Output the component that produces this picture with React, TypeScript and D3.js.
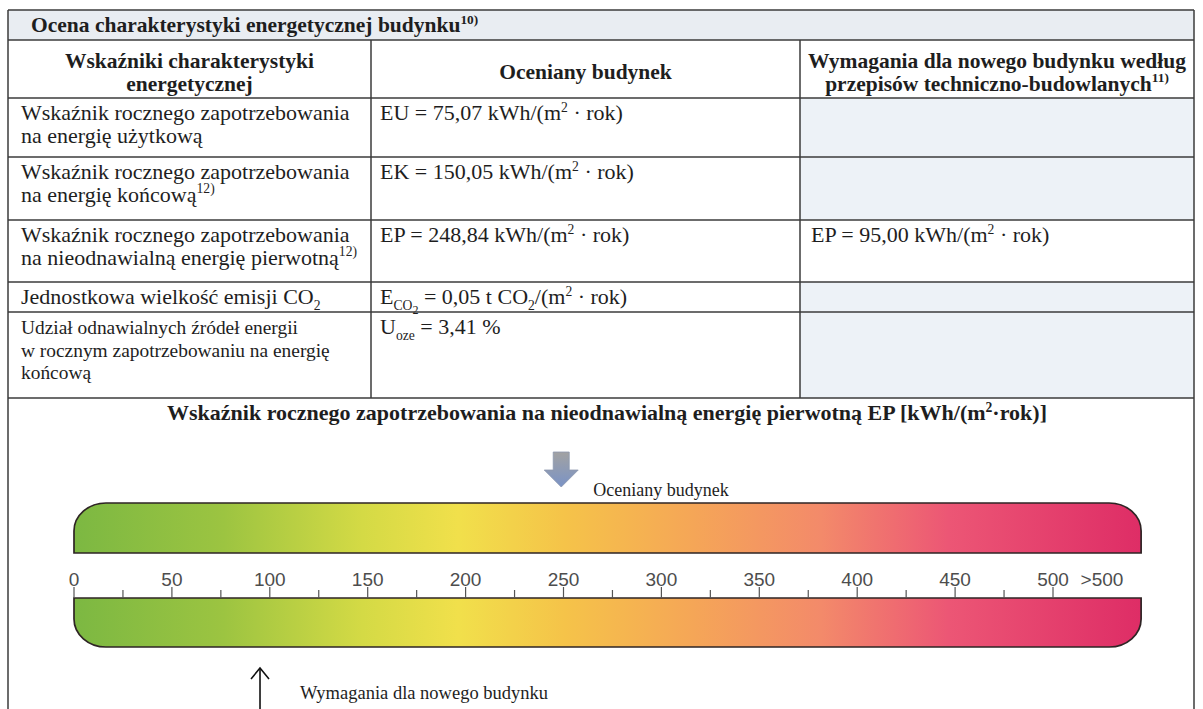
import React from 'react';
import * as d3 from 'd3';

// table content
const sectionTitle = 'Ocena charakterystyki energetycznej budynku';
const sectionNote = '10)';
const columnHeaders = [
  ['Wskaźniki charakterystyki', 'energetycznej'],
  ['Oceniany budynek'],
  ['Wymagania dla nowego budynku według', 'przepisów techniczno-budowlanych'],
];
const columnNotes = ['', '', '11)'];
const indicatorNames = [
  ['Wskaźnik rocznego zapotrzebowania', 'na energię użytkową'],
  ['Wskaźnik rocznego zapotrzebowania', 'na energię końcową'],
  ['Wskaźnik rocznego zapotrzebowania', 'na nieodnawialną energię pierwotną'],
  ['Jednostkowa wielkość emisji CO'],
  ['Udział odnawialnych źródeł energii', 'w rocznym zapotrzebowaniu na energię', 'końcową'],
];
const indicatorNotes = ['', '12)', '12)', '', ''];
const indicatorSymbols = ['EU', 'EK', 'EP', 'E', 'U'];
const assessedValues = [75.07, 150.05, 248.84, 0.05, 3.41];
const requiredValues = [null, null, 95.0, null, null];

// scale
const scaleTitle = 'Wskaźnik rocznego zapotrzebowania na nieodnawialną energię pierwotną EP [kWh/(m';
const majorTicks = [0, 50, 100, 150, 200, 250, 300, 350, 400, 450, 500];
const minorTicks = [25, 75, 125, 175, 225, 275, 325, 375, 425, 475];
const overLabel = '>500';
const assessedEP = 248.84;
const requiredEP = 95.0;
const gradientStops = [
  [0, '#7cb842'],
  [0.14, '#9cc441'],
  [0.27, '#d4da45'],
  [0.36, '#f1e04b'],
  [0.46, '#f5c349'],
  [0.58, '#f5a657'],
  [0.7, '#f38a6a'],
  [0.82, '#ec5675'],
  [1, '#de2d66'],
];

const serif = '"Liberation Serif", "Times New Roman", serif';
const sans = '"Liberation Sans", Arial, sans-serif';
const ink = '#1e1e1e';
const shade = '#edf2f7';

const pl = d3.formatLocale({ decimal: ',', thousands: ' ', grouping: [3], currency: ['', ' zł'] });
const f2 = pl.format('.2f');

type Seg = [string, string?];

function Rich({ x, y, segs, size, anchor = 'start', weight = 'normal' }:
  { x: number; y: number; segs: Seg[]; size: number; anchor?: string; weight?: string }) {
  let shift = 0;
  const spec: Record<string, [number, number]> = {
    '': [0, 1], sup: [-size * 0.38, 0.62], sub: [size * 0.28, 0.62], sub2: [size * 0.45, 0.55],
  };
  return (
    <text x={x} y={y} fontSize={size} fontFamily={serif} fill={ink} textAnchor={anchor} fontWeight={weight}>
      {segs.map(([t, m = ''], i) => {
        const [target, k] = spec[m];
        const dy = target - shift;
        shift = target;
        return <tspan key={i} dy={dy} fontSize={size * k}>{t}</tspan>;
      })}
    </text>
  );
}

function valueSegs(i: number, v: number): Seg[] {
  const s = indicatorSymbols[i];
  if (s === 'E') return [['E'], ['CO', 'sub'], ['2', 'sub2'], [` = ${f2(v)} t CO`], ['2', 'sub'], ['/(m'], ['2', 'sup'], [' · rok)']];
  if (s === 'U') return [['U'], ['oze', 'sub'], [` = ${f2(v)} %`]];
  return [[`${s} = ${f2(v)} kWh/(m`], ['2', 'sup'], [' · rok)']];
}

export default function App() {
  const W = 1203, H = 709;
  const colX = [8, 371, 800, 1194];
  const rowY = [10, 40, 98, 157, 220, 282, 312, 398];
  const fs = 22;

  const x = d3.scaleLinear().domain([0, 500]).range([74, 1053]);
  const barEnd = x(545);
  const topBar = { y0: 503, y1: 553 };
  const botBar = { y0: 598, y1: 647 };
  const rx = 32, ry = 28;

  const topPath = `M${x(0)},${topBar.y1} L${x(0)},${topBar.y0 + ry} A${rx},${ry} 0 0 1 ${x(0) + rx},${topBar.y0}
    L${barEnd - rx},${topBar.y0} A${rx},${ry} 0 0 1 ${barEnd},${topBar.y0 + ry} L${barEnd},${topBar.y1} Z`;
  const botPath = `M${x(0)},${botBar.y0} L${barEnd},${botBar.y0} L${barEnd},${botBar.y1 - ry}
    A${rx},${ry} 0 0 1 ${barEnd - rx},${botBar.y1} L${x(0) + rx},${botBar.y1} A${rx},${ry} 0 0 1 ${x(0)},${botBar.y1 - ry} Z`;

  const ax = x(assessedEP);
  const downArrow = `M${ax - 8},452 L${ax + 8},452 L${ax + 8},470 L${ax + 17},470 L${ax},487 L${ax - 17},470 L${ax - 8},470 Z`;
  const rq = x(requiredEP);

  return (
    <svg width={W} height={H} style={{ position: 'absolute', left: 0, top: 0, background: '#fff' }}>
      <defs>
        <linearGradient id="ep" gradientUnits="userSpaceOnUse" x1={x(0)} x2={barEnd} y1={0} y2={0}>
          {gradientStops.map(([o, c]) => <stop key={o as number} offset={o as number} stopColor={c as string} />)}
        </linearGradient>
        <linearGradient id="arr" x1="0" x2="0" y1="0" y2="1">
          <stop offset="0" stopColor="#a2a2a2" />
          <stop offset="1" stopColor="#7a93c6" />
        </linearGradient>
      </defs>

      {/* shaded cells */}
      <rect x={colX[0]} y={rowY[0]} width={colX[3] - colX[0]} height={rowY[1] - rowY[0]} fill="#e9edf2" />
      {indicatorNames.map((_, i) => requiredValues[i] == null && (
        <rect key={i} x={colX[2]} y={rowY[i + 2]} width={colX[3] - colX[2]} height={rowY[i + 3] - rowY[i + 2]} fill={shade} />
      ))}

      {/* grid */}
      <g stroke="#3b3b3b" strokeWidth={1.5} fill="none">
        {rowY.map((y, i) => <line key={i} x1={colX[0]} x2={colX[3]} y1={y} y2={y} />)}
        <line x1={colX[0]} x2={colX[0]} y1={rowY[0]} y2={H} />
        <line x1={colX[3]} x2={colX[3]} y1={rowY[0]} y2={H} />
        {[1, 2].map(c => <line key={c} x1={colX[c]} x2={colX[c]} y1={rowY[1]} y2={rowY[7]} />)}
      </g>

      {/* header */}
      <Rich x={31} y={rowY[0] + 22} size={21.5} weight="bold" segs={[[sectionTitle], [sectionNote, 'sup']]} />
      {columnHeaders.map((lines, c) => {
        const cx = (colX[c] + colX[c + 1]) / 2;
        const first = lines.length > 1 ? rowY[1] + 28 : rowY[1] + 39;
        return lines.map((t, j) => (
          <Rich key={`${c}-${j}`} x={cx} y={first + j * 22.5} size={21.5} weight="bold" anchor="middle"
            segs={j === lines.length - 1 && columnNotes[c] ? [[t], [columnNotes[c], 'sup']] : [[t]]} />
        ));
      })}

      {/* rows */}
      {indicatorNames.map((lines, i) => {
        const y0 = rowY[i + 2];
        const small = lines.length > 2;
        const size = small ? 19.4 : fs;
        return (
          <g key={i}>
            {lines.map((t, j) => {
              const last = j === lines.length - 1;
              const segs: Seg[] = [[t]];
              if (indicatorSymbols[i] === 'E') segs.push(['2', 'sub']);
              if (last && indicatorNotes[i]) segs.push([indicatorNotes[i], 'sup']);
              return <Rich key={j} x={21} y={y0 + 22 + j * 22.5} size={size} segs={segs} />;
            })}
            <Rich x={380} y={y0 + 22} size={fs} segs={valueSegs(i, assessedValues[i])} />
            {requiredValues[i] != null && (
              <Rich x={811} y={y0 + 22} size={fs} segs={valueSegs(i, requiredValues[i] as number)} />
            )}
          </g>
        );
      })}

      {/* EP scale */}
      <Rich x={607} y={420} size={22} weight="bold" anchor="middle"
        segs={[[scaleTitle], ['2', 'sup'], ['·rok)]']]} />

      <path d={downArrow} fill="url(#arr)" stroke="#8d98ae" strokeWidth={0.8} />
      <text x={ax + 32} y={496} fontFamily={serif} fontSize={18} fill={ink}>Oceniany budynek</text>

      <path d={topPath} fill="url(#ep)" stroke="#2e2424" strokeWidth={1.7} />
      <path d={botPath} fill="url(#ep)" stroke="#2e2424" strokeWidth={1.7} />

      <g stroke="#555" strokeWidth={1.2}>
        {majorTicks.map(t => <line key={t} x1={x(t)} x2={x(t)} y1={587} y2={botBar.y0} />)}
        {minorTicks.map(t => <line key={t} x1={x(t)} x2={x(t)} y1={590} y2={botBar.y0} />)}
      </g>
      <g fontFamily={sans} fontSize={19} fill="#4d4d4d" textAnchor="middle">
        {majorTicks.map(t => <text key={t} x={x(t)} y={586}>{t}</text>)}
        <text x={x(525)} y={586}>{overLabel}</text>
      </g>

      <g stroke="#111" strokeWidth={1.6} fill="none">
        <line x1={rq} x2={rq} y1={668} y2={H} />
        <path d={`M${rq - 9},679 L${rq},668 L${rq + 9},679`} />
      </g>
      <text x={rq + 40} y={699} fontFamily={serif} fontSize={18.5} fill={ink}>Wymagania dla nowego budynku</text>
    </svg>
  );
}
